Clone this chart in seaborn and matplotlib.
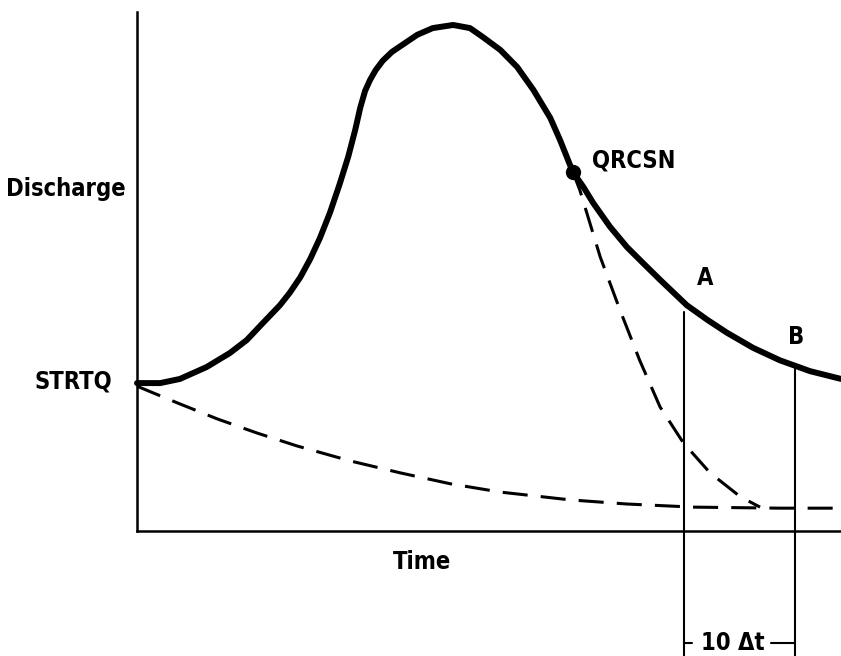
import pandas as pd
import seaborn as sns
import matplotlib.pyplot as plt

sns.set_theme(style="white")
plt.rcParams['font.family'] = ['DejaVu Sans']
plt.rcParams['font.stretch'] = 'condensed'

# hydrograph (time and discharge in % of the axis length)
hydro_t = [0.0, 3.3, 6.1, 9.9, 13.2, 15.6, 17.9, 20.3, 21.7, 23.2, 24.6, 26.0, 27.4,
           28.8, 30.0, 31.0, 31.7, 32.4, 33.1, 33.9, 34.9, 36.2, 37.4, 39.8,
           42.0, 44.9, 47.3, 49.1, 51.6, 54.0, 56.3, 58.7, 60.1, 61.9, 63.4, 64.8,
           67.2, 69.6, 71.9, 74.3, 78.1, 81.0, 83.8, 87.5, 91.3, 95.6, 100.0]
hydro_q = [28.5, 28.5, 29.3, 31.6, 34.3, 36.8, 40.1, 43.5, 45.9, 48.9, 52.4, 56.5, 61.3,
           66.9, 72.1, 77.3, 81.5, 84.8, 86.9, 88.8, 90.6, 92.3, 93.4, 95.6,
           96.9, 97.5, 96.9, 95.2, 92.7, 89.4, 85.0, 79.6, 75.3, 69.2, 66.3, 63.2,
           58.6, 54.7, 51.6, 48.4, 43.5, 40.7, 38.2, 35.3, 32.9, 30.8, 29.3]

# baseflow recession from STRTQ
base_t = [0, 5.7, 11.4, 17.0, 22.7, 30.3, 37.4, 44.5, 51.6, 61.5, 69.6, 79.0, 91.3, 100]
base_q = [27.9, 24.7, 21.6, 18.9, 16.4, 13.5, 11.2, 9.1, 7.5, 6.0, 5.2, 4.6, 4.4, 4.4]

# fast recession starting at QRCSN
rec_t = [61.9, 62.9, 65.8, 68.6, 71.4, 74.3, 77.6, 81.4, 85.7, 88.5]
rec_q = [69.2, 65.7, 52.8, 42.6, 32.9, 23.9, 17.0, 11.2, 6.6, 4.6]

qrcsn = (61.9, 69.2)
line_a = (77.7, 42.2)
line_b = (93.5, 31.4)
bottom_q = -24.1
bracket_q = -21.6

df_h = pd.DataFrame({'t': hydro_t, 'q': hydro_q})
df_b = pd.DataFrame({'t': base_t, 'q': base_q})
df_r = pd.DataFrame({'t': rec_t, 'q': rec_q})

fig = plt.figure(figsize=(8.41, 6.56), dpi=100)
ax = fig.add_axes([137 / 841, 125 / 656, 704 / 841, 519 / 656])

dash = (8.2, 4.3)
sns.lineplot(data=df_h, x='t', y='q', ax=ax, color='black', lw=4.3,
             estimator=None, sort=False, clip_on=False)
sns.lineplot(data=df_b, x='t', y='q', ax=ax, color='black', lw=2.2,
             estimator=None, sort=False, clip_on=False)
sns.lineplot(data=df_r, x='t', y='q', ax=ax, color='black', lw=2.2,
             estimator=None, sort=False, clip_on=False)
ax.lines[0].set_solid_joinstyle('round')
for ln in ax.lines[1:]:
    ln.set_dashes(dash)

ax.plot(*qrcsn, 'o', color='black', ms=10, clip_on=False)

# A and B verticals with the 10 dt bracket
for t, q in (line_a, line_b):
    ax.plot([t, t], [q, bottom_q], color='black', lw=1.5, clip_on=False)
ax.plot([line_a[0], line_a[0] + 1.2], [bracket_q, bracket_q], color='black', lw=1.5, clip_on=False)
ax.plot([line_b[0] - 3.4, line_b[0]], [bracket_q, bracket_q], color='black', lw=1.5, clip_on=False)

ax.set_xlim(0, 100)
ax.set_ylim(0, 100)
ax.set_xticks([])
ax.set_yticks([])
sns.despine(ax=ax)
for s in ('left', 'bottom'):
    ax.spines[s].set_linewidth(1.8)
    ax.spines[s].set_color('black')
ax.set_xlabel('')
ax.set_ylabel('')

kw = dict(fontsize=17, fontweight='bold', fontstretch='condensed', color='black', clip_on=False)
ax.text(-1.6, 65.9, 'Discharge', ha='right', va='center', **kw)
ax.text(-3.6, 28.9, 'STRTQ', ha='right', va='center', **kw)
ax.text(40.5, -6.0, 'Time', ha='center', va='center', **kw)
ax.text(64.6, 71.3, 'QRCSN', ha='left', va='center', **kw)
ax.text(80.7, 48.7, 'A', ha='center', va='center', **kw)
ax.text(93.6, 37.4, 'B', ha='center', va='center', **kw)
ax.text(84.7, bracket_q, '10 Δt', ha='center', va='center', **kw)

fig.savefig('out.png', dpi=100)
